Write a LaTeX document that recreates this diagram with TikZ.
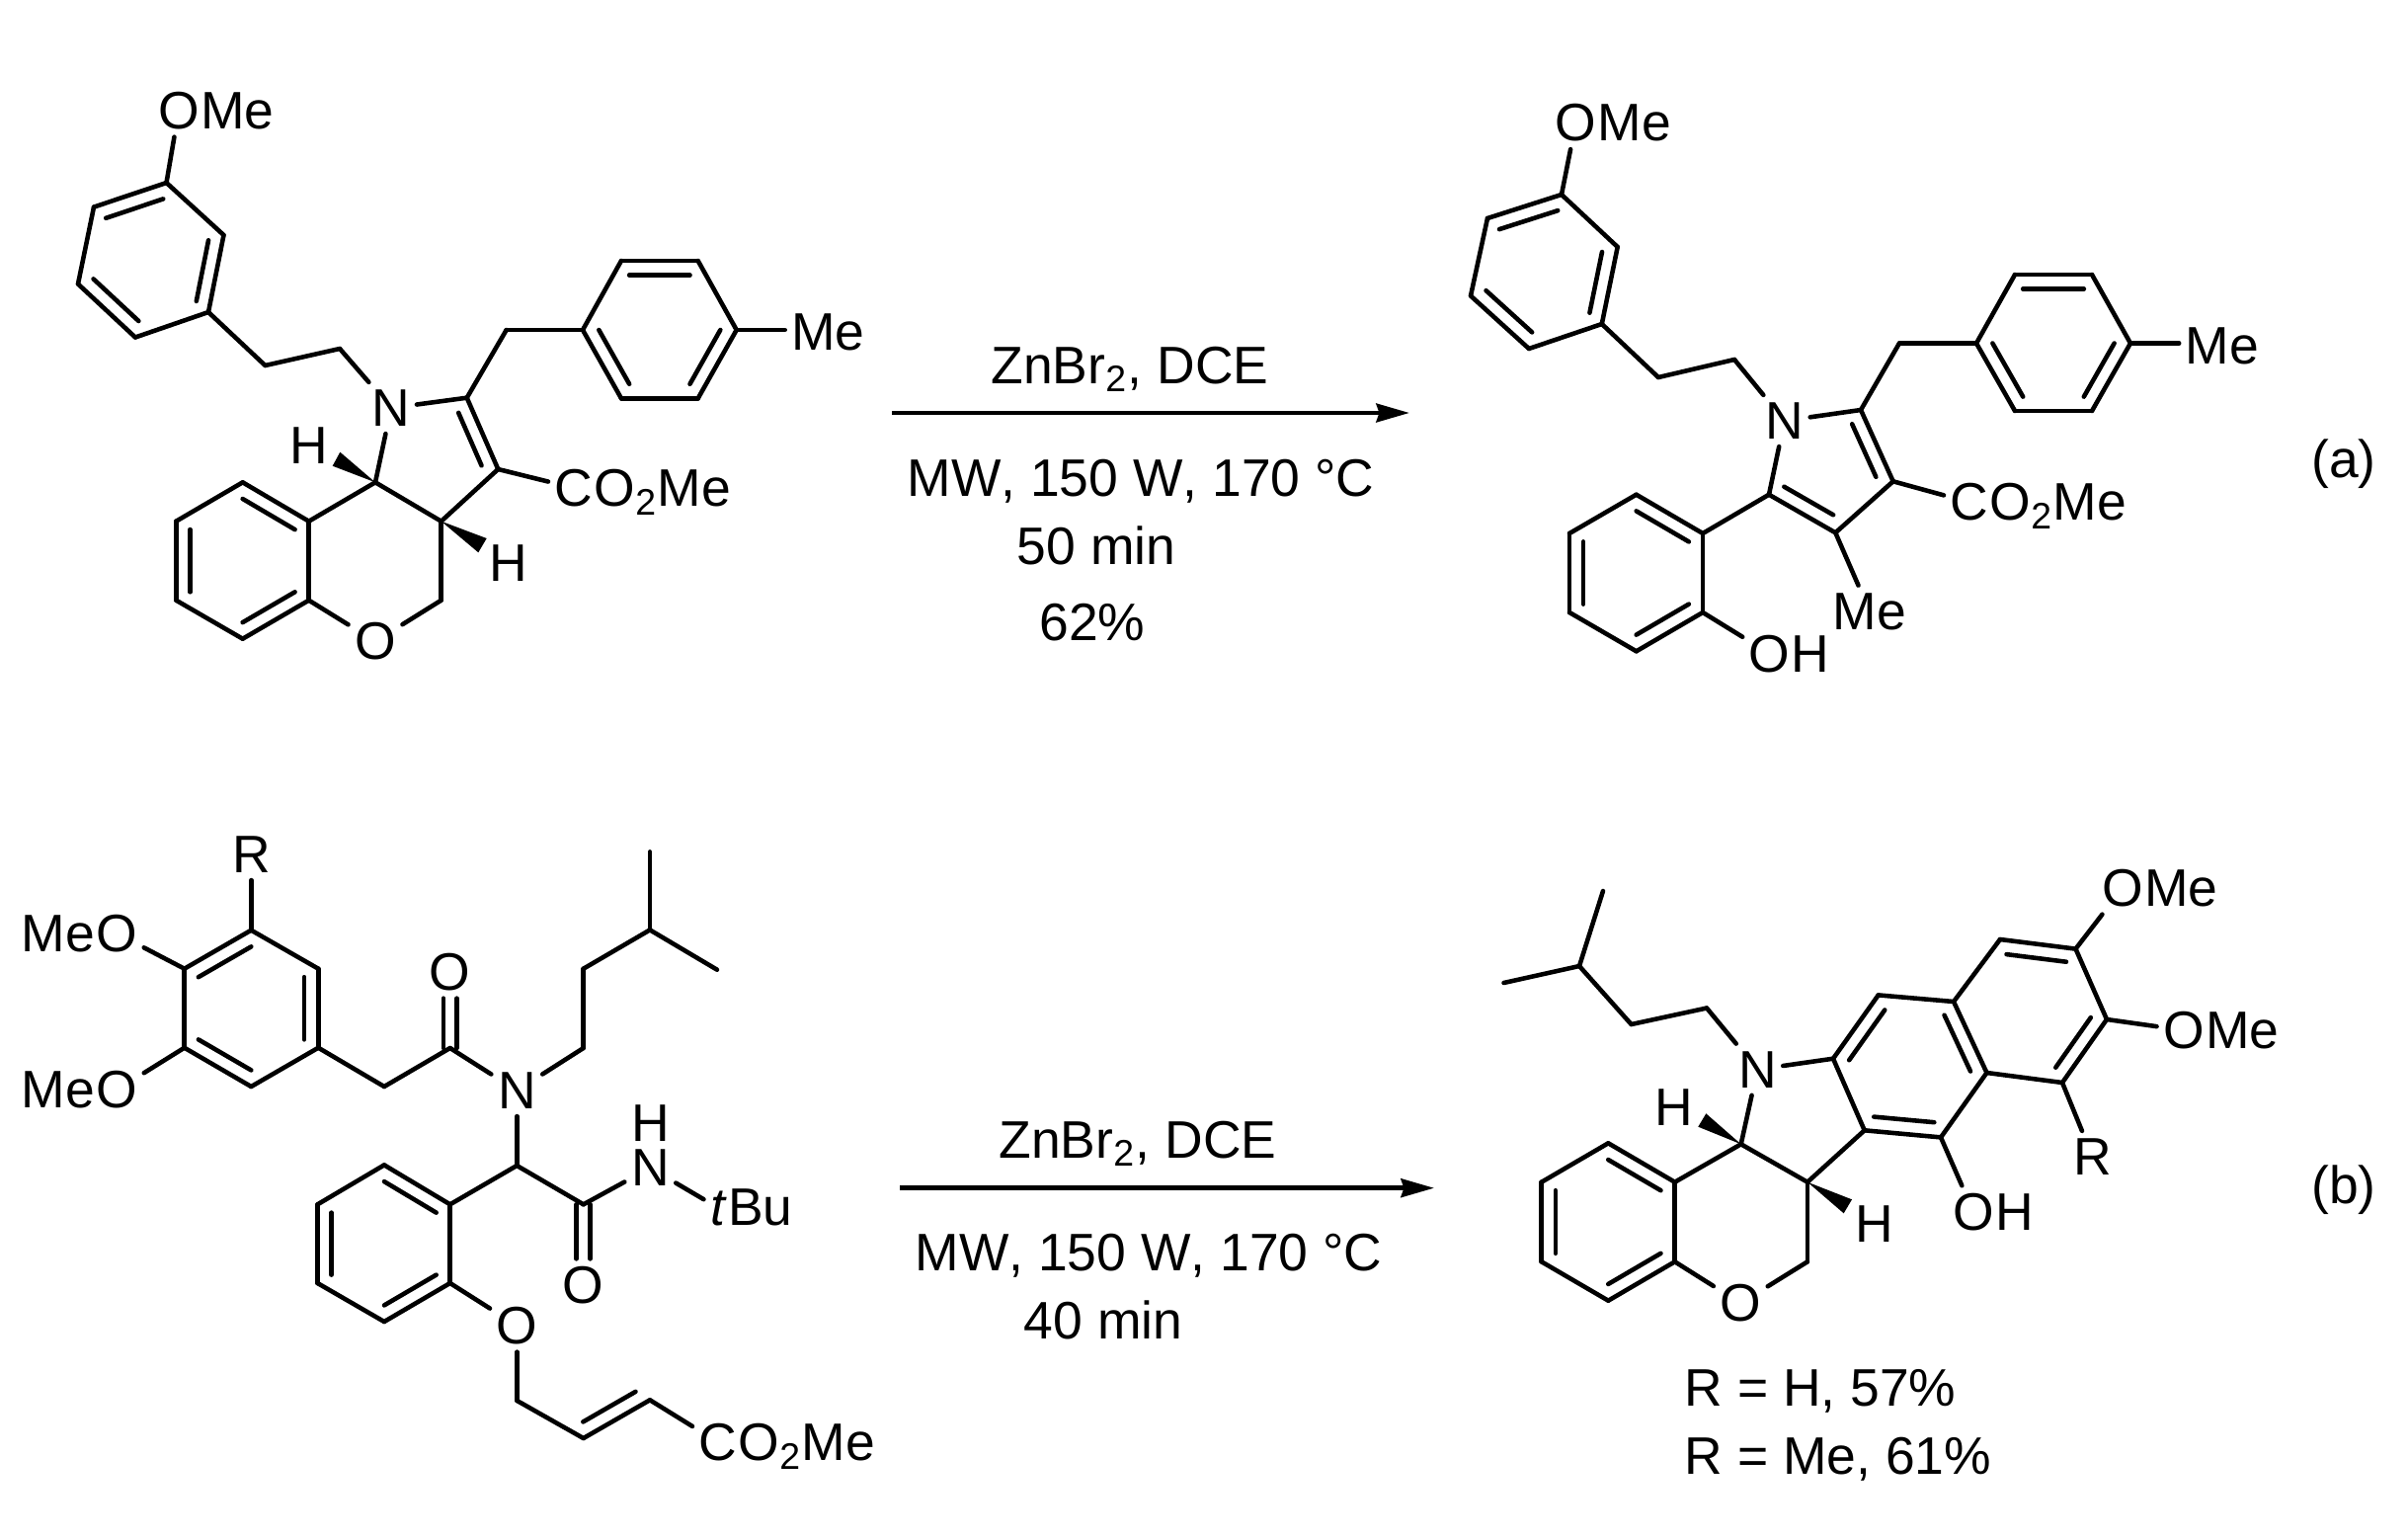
\documentclass[tikz,border=0pt]{standalone}
\usepackage{fontspec}
\setmainfont[Kerning=Off]{Liberation Sans}
\usetikzlibrary{arrows.meta,calc}
\tikzset{
	bond/.style={line width=1.3pt,line cap=round,line join=round},
	atomlabel/.style={inner xsep=1.7pt,inner ysep=2pt,font=\fontsize{15.2}{18}\selectfont},
	tailtext/.style={anchor=base west,inner sep=0pt,xshift=-1.7pt,font=\fontsize{15.2}{18}\selectfont},
	headtext/.style={anchor=base east,inner sep=0pt,xshift=1.7pt,font=\fontsize{15.2}{18}\selectfont},
	cond/.style={anchor=base,inner sep=0pt,font=\fontsize{15.2}{18}\selectfont},
	yieldtext/.style={anchor=base west,inner sep=0pt,font=\fontsize{15.2}{18}\selectfont},
	rxnarrow/.style={line width=1.3pt,-{Stealth[length=0.335cm,width=0.187cm,inset=0.03cm]}}
}
\newcommand{\innerbond}[4][0.21]{\draw[bond] ($(#2)!#1!(#4)$) -- ($(#3)!#1!(#4)$);}
\begin{document}
\begin{tikzpicture}[x=0.01cm,y=-0.01cm]
	\useasboundingbox (0,0) rectangle (2438,1557);

	%substrate a
	\foreach \n/\x/\y in {a1/168.5/185, a2/226.5/238, a3/211/316, a4/137/341.5, a5/79/287.5, a6/95/209.6, ac/153/263,
		ach1/268.5/370, ach2/344/353, ap2/472.7/402.7, ap3/504.3/475, apc/440/461, ach3/512.7/334,
		at1/590/334, at2/629/264, at3/706.7/264, at4/745.7/334, at5/706.7/403.3, at6/629/403.3, atc/667.8/334,
		aj1/380/488.3, aj2/446.7/527.7, as1/312.7/527.7, as2/245.7/488.3, as3/178.3/527.7, as4/178.3/607.7, as5/245.7/646.7, as6/312.7/607.7, asc/245.5/567.7,
		ach4/446.7/607.7, aw1/336.7/471.7, aw2/344.3/457.7, aw3/492.7/545, aw4/484.3/559.3}
		\coordinate (\n) at (\x,\y);
	\node[atomlabel] (aOa) at (181,112) {O};
	\node[tailtext] (aOb) at (aOa.base east) {Me};
	\node[atomlabel] (aN) at (396,413) {N};
	\node[atomlabel] (aO) at (380,649.3) {O};
	\node[atomlabel] (aMe) at (838.5,336.5) {Me};
	\node[atomlabel] (aC) at (581,494) {C};
	\node[tailtext] (aCb) at (aC.base east) {O\textsubscript{2}Me};
	\node[atomlabel] (aHa) at (312.3,451) {H};
	\node[atomlabel] (aHb) at (515,570) {H};
	\foreach \p/\q in {a1/a2, a2/a3, a3/a4, a4/a5, a5/a6, a6/a1, a1/aOa, a3/ach1, ach1/ach2, ach2/aN, aN/ap2, ap2/ap3, ap2/ach3, ach3/at1,
		at1/at2, at2/at3, at3/at4, at4/at5, at5/at6, at6/at1, ap3/aC, ap3/aj2, aj2/aj1, aj1/aN, aj1/as1,
		as1/as2, as2/as3, as3/as4, as4/as5, as5/as6, as6/as1, as6/aO, aO/ach4, ach4/aj2}
		\draw[bond] (\p) -- (\q);
	\draw[bond] (at4) -- (at4 -| aMe.west);
	\innerbond{a6}{a1}{ac}
	\innerbond{a2}{a3}{ac}
	\innerbond{a4}{a5}{ac}
	\innerbond{at2}{at3}{atc}
	\innerbond{at1}{at6}{atc}
	\innerbond{at4}{at5}{atc}
	\innerbond{as1}{as2}{asc}
	\innerbond{as3}{as4}{asc}
	\innerbond{as5}{as6}{asc}
	\innerbond[0.26]{ap2}{ap3}{apc}
	\fill (aj1) -- (aw1) -- (aw2) -- cycle;
	\fill (aj2) -- (aw3) -- (aw4) -- cycle;

	%arrow a
	\coordinate (arra) at (903,418);
	\coordinate (arrb) at (1427,418);
	\draw[rxnarrow] (arra) -- (arrb);
	\node[cond] (ca1) at (1144,388) {ZnBr\textsubscript{2}, DCE};
	\node[cond] (ca2) at (1155,502) {MW, 150 W, 170 °C};
	\node[cond] (ca3) at (1110,571) {50 min};
	\node[cond] (ca4) at (1106,648) {62\%};

	%product a
	\foreach \n/\x/\y in {b1/1581/197, b2/1637.7/250, b3/1621.8/328, b4/1548/353, b5/1489/299.5, b6/1506/221, bc/1563/274,
		bch1/1679/382, bch2/1756/364, bp2/1884/415, bp3/1916.7/487.3, bp4/1858.3/539.3, bp5/1791/500.7, bpc/1850/470, bch3/1923/347.5,
		bt1/2001/347.5, bt2/2040/278, bt3/2118/278, bt4/2157/347.5, bt5/2118/416, bt6/2040/416, btc/2079/347.5,
		bs1/1724/540, bs2/1656.7/500.7, bs3/1589/540, bs4/1589/620, bs5/1656.7/659.3, bs6/1724/620, bsc/1656.6/580}
		\coordinate (\n) at (\x,\y);
	\node[atomlabel] (bOa) at (1595.4,124.5) {O};
	\node[tailtext] (bOb) at (bOa.base east) {Me};
	\node[atomlabel] (bN) at (1806.7,426) {N};
	\node[atomlabel] (bMe) at (2250,350) {Me};
	\node[atomlabel] (bC) at (1994,508.5) {C};
	\node[tailtext] (bCb) at (bC.base east) {O\textsubscript{2}Me};
	\node[atomlabel] (bMf) at (1893,619) {Me};
	\node[atomlabel] (bO) at (1791.7,661.7) {O};
	\node[tailtext] (bOh) at (bO.base east) {H};
	\foreach \p/\q in {b1/b2, b2/b3, b3/b4, b4/b5, b5/b6, b6/b1, b1/bOa, b3/bch1, bch1/bch2, bch2/bN, bN/bp2, bp2/bp3, bp3/bp4, bp4/bp5, bp5/bN,
		bp2/bch3, bch3/bt1, bt1/bt2, bt2/bt3, bt3/bt4, bt4/bt5, bt5/bt6, bt6/bt1, bp3/bC, bp4/bMf, bp5/bs1,
		bs1/bs2, bs2/bs3, bs3/bs4, bs4/bs5, bs5/bs6, bs6/bs1, bs6/bO}
		\draw[bond] (\p) -- (\q);
	\draw[bond] (bt4) -- (bt4 -| bMe.west);
	\innerbond{b6}{b1}{bc}
	\innerbond{b2}{b3}{bc}
	\innerbond{b4}{b5}{bc}
	\innerbond{bt2}{bt3}{btc}
	\innerbond{bt1}{bt6}{btc}
	\innerbond{bt4}{bt5}{btc}
	\innerbond{bs1}{bs2}{bsc}
	\innerbond{bs3}{bs4}{bsc}
	\innerbond{bs5}{bs6}{bsc}
	\innerbond[0.26]{bp2}{bp3}{bpc}
	\innerbond[0.26]{bp4}{bp5}{bpc}
	\node[atomlabel] (lbla) at (2373,470) {(a)};

	%substrate b
	\foreach \n/\x/\y in {c1/254.3/941.7, c2/322.3/980.7, c3/322.3/1060.7, c4/254.3/1100, c5/186.7/1060.7, c6/186.7/980.7, cc/254.3/1021,
		cch1/389/1100, cco/455.7/1061, ccoa/449/1061, ccob/462.4/1061, ci1/590.7/1061, ci2/590.7/980.7, ci3/658/941.4, ci4/658/862.4, ci5/726/981.7,
		cm/523.3/1180, cam/590.7/1219.3, cama/583.7/1219.3, camb/597.7/1219.3,
		cs1/455.7/1219.3, cs2/389/1179.4, cs3/321.5/1219.3, cs4/321.5/1299, cs5/389/1338, cs6/455.7/1299, csc/389/1259,
		ck1/523.5/1418, ck2/590.7/1456, ck3/658/1417.3, ckc/589/1377}
		\coordinate (\n) at (\x,\y);
	\node[atomlabel] (cR) at (254.3,865) {R};
	\node[atomlabel] (cOa) at (118.3,945) {O};
	\node[headtext] (cMa) at (cOa.base west) {Me};
	\node[atomlabel] (cOb) at (118.3,1103.3) {O};
	\node[headtext] (cMb) at (cOb.base west) {Me};
	\node[atomlabel] (cOc) at (455.7,984) {O};
	\node[atomlabel] (cN) at (523.3,1104) {N};
	\node[atomlabel] (cNb) at (658.3,1182.3) {N};
	\node[atomlabel] (cH) at (658.3,1136.7) {H};
	\node[atomlabel] (cOd) at (590.7,1301) {O};
	\node[atomlabel] (ct) at (727.5,1223) {\textit{t}};
	\node[tailtext] (cBu) at (ct.base east) {Bu};
	\node[atomlabel] (cOe) at (523.5,1342) {O};
	\node[atomlabel] (cC) at (727,1460) {C};
	\node[tailtext] (cCb) at (cC.base east) {O\textsubscript{2}Me};
	\coordinate (coa) at (cOc.south -| ccoa);
	\coordinate (cob) at (cOc.south -| ccob);
	\coordinate (coc) at (cOd.north -| cama);
	\coordinate (cod) at (cOd.north -| camb);
	\foreach \p/\q in {c1/c2, c2/c3, c3/c4, c4/c5, c5/c6, c6/c1, c1/cR, c6/cOa, c5/cOb, c3/cch1, cch1/cco, cco/cN, ccoa/coa, ccob/cob,
		cN/ci1, ci1/ci2, ci2/ci3, ci3/ci4, ci3/ci5, cN/cm, cm/cam, cm/cs1, cam/cNb, cama/coc, camb/cod, cNb/ct,
		cs1/cs2, cs2/cs3, cs3/cs4, cs4/cs5, cs5/cs6, cs6/cs1, cs6/cOe, cOe/ck1, ck1/ck2, ck2/ck3, ck3/cC}
		\draw[bond] (\p) -- (\q);
	\innerbond{c6}{c1}{cc}
	\innerbond{c2}{c3}{cc}
	\innerbond{c4}{c5}{cc}
	\innerbond{cs1}{cs2}{csc}
	\innerbond{cs3}{cs4}{csc}
	\innerbond{cs5}{cs6}{csc}
	\innerbond{ck2}{ck3}{ckc}

	%arrow b
	\coordinate (arrc) at (911,1202.7);
	\coordinate (arrd) at (1452,1202.7);
	\draw[rxnarrow] (arrc) -- (arrd);
	\node[cond] (cb1) at (1152,1172) {ZnBr\textsubscript{2}, DCE};
	\node[cond] (cb2) at (1163,1286) {MW, 150 W, 170 °C};
	\node[cond] (cb3) at (1117,1355) {40 min};

	%product b
	\foreach \n/\x/\y in {di1/1623/902, di2/1522.5/995, di3/1599/978, di4/1651.6/1037, di5/1728/1020.5,
		d1/1856/1071.7, d2/1887.7/1144.3, d3/1965/1151.4, d4/2011.5/1086, d5/1978/1014, d6/1901.7/1007.4, dc/1933/1079,
		e1/2025/951, e2/2101.5/960.6, e3/2133/1032, e4/2088/1096, ec/2056/1023,
		dp1/1830/1196.7, dj/1762.7/1158.3, dpc/1826/1130,
		ds1/1695.7/1196.7, ds2/1628.3/1157.3, ds3/1560.7/1196.7, ds4/1560.7/1277.3, ds5/1628.3/1316.7, ds6/1695.7/1277.3, dsc/1628/1237,
		dch/1830/1277.3, dw1/1719.3/1140.7, dw2/1727.3/1127.3, dw3/1875/1214.3, dw4/1866.7/1228.3}
		\coordinate (\n) at (\x,\y);
	\node[atomlabel] (dN) at (1779.3,1082.7) {N};
	\node[atomlabel] (dOa) at (2149,899) {O};
	\node[tailtext] (dMa) at (dOa.base east) {Me};
	\node[atomlabel] (dOb) at (2211,1043) {O};
	\node[tailtext] (dMb) at (dOb.base east) {Me};
	\node[atomlabel] (dR) at (2118.6,1171) {R};
	\node[atomlabel] (dOc) at (1998,1227) {O};
	\node[tailtext] (dOh) at (dOc.base east) {H};
	\node[atomlabel] (dHa) at (1695,1120.7) {H};
	\node[atomlabel] (dHb) at (1897.3,1239.3) {H};
	\node[atomlabel] (dO) at (1762.3,1319.3) {O};
	\foreach \p/\q in {di1/di3, di2/di3, di3/di4, di4/di5, di5/dN, dN/d1, d1/d2, d2/d3, d3/d4, d4/d5, d5/d6, d6/d1,
		d5/e1, e1/e2, e2/e3, e3/e4, e4/d4, e2/dOa, e3/dOb, e4/dR, d3/dOc, d2/dp1, dp1/dj, dj/dN, dj/ds1, dp1/dch, dch/dO, dO/ds6,
		ds1/ds2, ds2/ds3, ds3/ds4, ds4/ds5, ds5/ds6, ds6/ds1}
		\draw[bond] (\p) -- (\q);
	\innerbond{d1}{d6}{dc}
	\innerbond{d2}{d3}{dc}
	\innerbond{d4}{d5}{dc}
	\innerbond{e1}{e2}{ec}
	\innerbond{e3}{e4}{ec}
	\innerbond{ds1}{ds2}{dsc}
	\innerbond{ds3}{ds4}{dsc}
	\innerbond{ds5}{ds6}{dsc}
	\fill (dj) -- (dw1) -- (dw2) -- cycle;
	\fill (dp1) -- (dw3) -- (dw4) -- cycle;
	\node[yieldtext] (ya) at (1705,1423) {R = H, 57\%};
	\node[yieldtext] (yb) at (1705,1492) {R = Me, 61\%};
	\node[atomlabel] (lblb) at (2373,1205) {(b)};
\end{tikzpicture}
\end{document}
